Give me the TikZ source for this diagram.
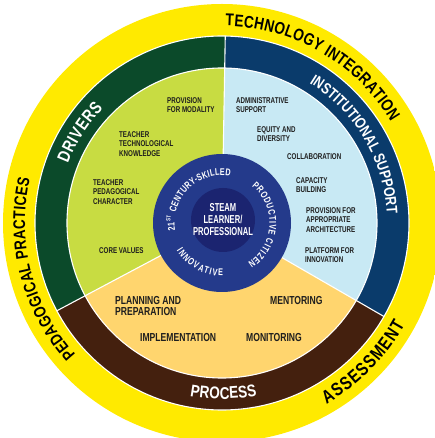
\documentclass[tikz,border=0pt]{standalone}
\usepackage{fontspec}
\setmainfont{Liberation Sans}
\newfontfamily\cond{Liberation Sans}[FakeStretch=0.74]
\newfontfamily\condx{Liberation Sans}[FakeStretch=0.66]
\newfontfamily\condr{Liberation Sans}[FakeStretch=0.8]
\usetikzlibrary{decorations.text}
\definecolor{ybright}{HTML}{FFEA00}
\definecolor{ydeep}{HTML}{FAD000}
\definecolor{dgreen}{HTML}{0B4A2A}
\definecolor{dblue}{HTML}{0A3B6B}
\definecolor{dbrown}{HTML}{44200E}
\definecolor{lgin}{HTML}{C8DC42}
\definecolor{lgout}{HTML}{A8C527}
\definecolor{lbin}{HTML}{C8E9F4}
\definecolor{lbout}{HTML}{A3D6EA}
\definecolor{orin}{HTML}{FFD56E}
\definecolor{orout}{HTML}{FDB940}
\definecolor{navyring}{HTML}{243A8B}
\definecolor{navycore}{HTML}{1B2470}
\definecolor{txtdark}{HTML}{1E1E1E}
\pgfdeclareradialshading{yshade}{\pgfpoint{0bp}{0bp}}{color(0bp)=(ybright); color(44bp)=(ybright); color(50bp)=(ydeep)}
\pgfdeclareradialshading{lgshade}{\pgfpoint{0bp}{0bp}}{color(0bp)=(lgin); color(28bp)=(lgin); color(50bp)=(lgout)}
\pgfdeclareradialshading{lbshade}{\pgfpoint{0bp}{0bp}}{color(0bp)=(lbin); color(28bp)=(lbin); color(50bp)=(lbout)}
\pgfdeclareradialshading{orshade}{\pgfpoint{0bp}{0bp}}{color(0bp)=(orin); color(28bp)=(orin); color(50bp)=(orout)}
\newcommand\fring{\condr\bfseries\fontsize{17}{17}\selectfont}
\newcommand\fpeda{\condr\bfseries\fontsize{16.8}{16.8}\selectfont}
\newcommand\fassess{\condr\bfseries\fontsize{18.5}{18.5}\selectfont}
\newcommand\fdark{\condr\bfseries\fontsize{15.5}{15.5}\selectfont}
\newcommand\fdrivers{\condr\bfseries\fontsize{17.5}{17.5}\selectfont}
\newcommand\fprocess{\condr\bfseries\fontsize{17}{17}\selectfont}
\newcommand\fnavy{\cond\bfseries\fontsize{9.8}{9.8}\selectfont}
\newcommand\fnavysup{\cond\bfseries\fontsize{6}{6}\selectfont}
\begin{document}
\begin{tikzpicture}[x=1pt,y=1pt,
  smalllbl/.style={font=\cond\bfseries\fontsize{8.4}{9.6}\selectfont, align=left, anchor=north west, inner sep=0pt, text=txtdark},
  biglbl/.style={font=\cond\bfseries\fontsize{11.6}{11.6}\selectfont, align=left, anchor=north west, inner sep=0pt, text=txtdark},
  centerlbl/.style={font=\condx\bfseries\fontsize{11.5}{12}\selectfont, align=center, inner sep=0pt, text=white},
  sepline/.style={draw=white, line width=1.1pt},
  ringtext/.style={decorate, decoration={text along path, text align={fit to path}, text color=#1}}
]
\useasboundingbox (-222,-215) rectangle (212,223);
% yellow outer ring
\shade[shading=yshade] (0,0) circle (219pt);
% dark ring sectors
\fill[dgreen] (0,0) -- (89:187pt) arc[start angle=89, end angle=208, radius=187pt] -- cycle;
\fill[dblue] (0,0) -- (-30:187pt) arc[start angle=-30, end angle=89, radius=187pt] -- cycle;
\fill[dbrown] (0,0) -- (208:187pt) arc[start angle=208, end angle=330, radius=187pt] -- cycle;
% light sectors
\begin{scope}
\clip (0,0) -- (89:155pt) arc[start angle=89, end angle=208, radius=155pt] -- cycle;
\shade[shading=lgshade] (0,0) circle (155pt);
\end{scope}
\begin{scope}
\clip (0,0) -- (-30:155pt) arc[start angle=-30, end angle=89, radius=155pt] -- cycle;
\shade[shading=lbshade] (0,0) circle (155pt);
\end{scope}
\begin{scope}
\clip (0,0) -- (208:155pt) arc[start angle=208, end angle=330, radius=155pt] -- cycle;
\shade[shading=orshade] (0,0) circle (155pt);
\end{scope}
% white separators
\draw[sepline] (0,0) circle (187pt);
\draw[sepline] (0,0) circle (155pt);
\draw[sepline] (89:69pt) -- (89:187pt);
\draw[sepline] (208:69pt) -- (208:187pt);
\draw[sepline] (-30:69pt) -- (-30:187pt);
% navy centre
\fill[navyring] (0,0) circle (69pt);
\fill[navycore] (1,3) circle (32pt);
\node[centerlbl] (steam) at (1,3) {STEAM\\LEARNER/\\PROFESSIONAL};
% ring texts
\path[ringtext=black, decoration={text={|\fring|TECHNOLOGY INTEGRATION}}] (89:197pt) arc[start angle=89, end angle=31, radius=197pt];
\path[ringtext=black, decoration={text={|\fpeda|PEDAGOGICAL PRACTICES}}] (222:197pt) arc[start angle=222, end angle=167, radius=197pt];
\path[ringtext=black, decoration={text={|\fassess|ASSESSMENT}}] (300:209pt) arc[start angle=300, end angle=331, radius=209pt];
\path[ringtext=white, decoration={text={|\fdark|INSTITUTIONAL SUPPORT}}] (58:165pt) arc[start angle=58, end angle=3, radius=165pt];
\path[ringtext=white, decoration={text={|\fdrivers|DRIVERS}}] (159:165pt) arc[start angle=159, end angle=136, radius=165pt];
\path[ringtext=white, decoration={text={|\fprocess|PROCESS}}] (259.5:176pt) arc[start angle=259.5, end angle=281.5, radius=176pt];
% navy ring texts
\path[decorate, decoration={text along path, text color=white, text={|\fnavy|21}}] (189:47.5pt) arc[start angle=189, end angle=178, radius=47.5pt];
\path[decorate, decoration={text along path, text color=white, text={|\fnavysup|ST}}] (178.5:51.5pt) arc[start angle=178.5, end angle=168, radius=51.5pt];
\path[ringtext=white, decoration={text={|\fnavy|CENTURY-SKILLED}}] (167:47.5pt) arc[start angle=167, end angle=80, radius=47.5pt];
\path[ringtext=white, decoration={text={|\fnavy|PRODUCTIVE CITIZEN}}] (51:47.5pt) arc[start angle=51, end angle=-57, radius=47.5pt];
\path[ringtext=white, decoration={text={|\fnavy|INNOVATIVE}}] (211:53pt) arc[start angle=211, end angle=271, radius=53pt];
% green sector labels
\node[smalllbl] (modality) at (-55,126) {PROVISION\\FOR MODALITY};
\node[smalllbl] (ttk) at (-103,92) {TEACHER\\TECHNOLOGICAL\\KNOWLEDGE};
\node[smalllbl] (tpc) at (-129,44) {TEACHER\\PEDAGOGICAL\\CHARACTER};
\node[smalllbl] (core) at (-123,-24) {CORE VALUES};
% blue sector labels
\node[smalllbl] (admin) at (14,126) {ADMINISTRATIVE\\SUPPORT};
\node[smalllbl] (equity) at (35,97) {EQUITY AND\\DIVERSITY};
\node[smalllbl] (collab) at (65,70) {COLLABORATION};
\node[smalllbl] (capacity) at (74,46) {CAPACITY\\BUILDING};
\node[smalllbl] (archi) at (84,16) {PROVISION FOR\\APPROPRIATE\\ARCHITECTURE};
\node[smalllbl] (platform) at (83,-24) {PLATFORM FOR\\INNOVATION};
% orange sector labels
\node[biglbl] (planning) at (-107,-73) {PLANNING AND\\PREPARATION};
\node[biglbl] (implement) at (-82,-110) {IMPLEMENTATION};
\node[biglbl] (mentoring) at (48,-73) {MENTORING};
\node[biglbl] (monitoring) at (24,-110) {MONITORING};
\end{tikzpicture}
\end{document}
